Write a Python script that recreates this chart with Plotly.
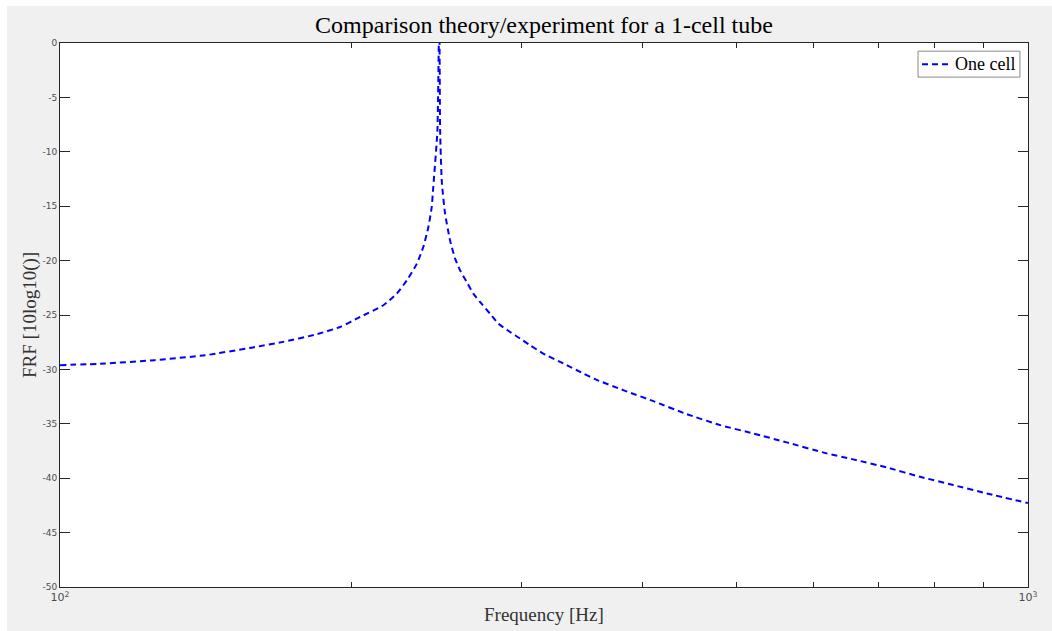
import plotly.graph_objects as go

# Frequency response of a single-cell tube (dB)
freq_hz = [100.0, 111.3, 125.3, 141.2, 157.8, 170.0, 184.2, 194.7, 204.2, 215.8,
           222.8, 228.2, 233.7, 237.3, 240.2, 242.1, 243.0, 245.4, 246.5, 247.0,
           248.0, 249.9, 252.9, 255.9, 259.0, 263.1, 267.3, 271.6, 278.1, 283.7,
           291.7, 298.7, 305.9, 315.7, 331.2, 347.3, 357.1, 383.5, 410.2, 444.1,
           480.8, 520.3, 563.3, 619.4, 659.9, 714.5, 773.5, 837.2, 906.5, 1000.0]
frf_db = [-29.61, -29.46, -29.15, -28.70, -28.00, -27.47, -26.77, -26.10, -25.18, -24.10,
          -23.03, -21.81, -20.28, -18.75, -16.91, -15.08, -13.24, -8.03, 3.0, -8.03,
          -12.78, -15.66, -18.14, -19.79, -20.89, -21.96, -23.03, -23.80, -24.87, -25.79,
          -26.56, -27.16, -27.78, -28.54, -29.46, -30.38, -30.90, -31.97, -32.92, -34.11,
          -35.12, -35.89, -36.71, -37.72, -38.27, -39.01, -39.87, -40.63, -41.40, -42.29]

y_ticks = [0, -5, -10, -15, -20, -25, -30, -35, -40, -45, -50]
x_major = [100, 1000]
x_major_text = ["10<sup>2</sup>", "10<sup>3</sup>"]
x_minor = [200, 300, 400, 500, 600, 700, 800, 900]

SERIF = "Liberation Serif"
AXIS_COL = "#262626"
LINE_COL = "#0000ff"
LINE_DASH = "6px,4px"

fig = go.Figure()
fig.add_trace(go.Scatter(
    x=freq_hz, y=frf_db, mode="lines", name="One cell",
    line=dict(color=LINE_COL, width=2, dash=LINE_DASH, shape="spline", smoothing=0.5),
    showlegend=False,
))

fig.update_layout(
    width=1052, height=631,
    margin=dict(l=60, r=24, t=43, b=44),
    paper_bgcolor="#f0f0f0", plot_bgcolor="#ffffff",
    title=dict(text="Comparison theory/experiment for a 1-cell tube",
               x=0.5, xref="paper", xanchor="center",
               y=0.961, yref="container", yanchor="middle",
               font=dict(family=SERIF, size=24, color="#000000")),
    xaxis=dict(
        type="log", range=[2, 3],
        tickvals=x_major, ticktext=x_major_text,
        ticks="inside", ticklen=10, tickcolor=AXIS_COL, tickwidth=1,
        minor=dict(tickvals=x_minor, ticks="inside", ticklen=5,
                   tickcolor=AXIS_COL, tickwidth=1, showgrid=False),
        showline=True, linecolor=AXIS_COL, linewidth=1, mirror="ticks",
        showgrid=False, zeroline=False,
        tickfont=dict(family="DejaVu Sans", size=11, color="#4d4d4d"),
    ),
    yaxis=dict(
        range=[-50, 0], tickvals=y_ticks, ticktext=[str(v) for v in y_ticks],
        ticks="inside", ticklen=10, tickcolor=AXIS_COL, tickwidth=1,
        showline=True, linecolor=AXIS_COL, linewidth=1, mirror="ticks",
        showgrid=False, zeroline=False,
        tickfont=dict(family="DejaVu Sans", size=9, color="#4d4d4d"),
    ),
    annotations=[
        dict(text="Frequency [Hz]", xref="paper", yref="paper", x=0.5, y=-0.0514,
             xanchor="center", yanchor="middle", showarrow=False,
             font=dict(family=SERIF, size=19, color="#333333")),
        dict(text="FRF [10log10()]", xref="paper", yref="paper", x=-0.031, y=0.5,
             xanchor="center", yanchor="middle", showarrow=False, textangle=-90,
             font=dict(family=SERIF, size=19, color="#333333")),
        # legend entry text
        dict(text="One cell", xref="paper", yref="paper", x=0.9225, y=0.9611,
             xanchor="left", yanchor="middle", showarrow=False,
             font=dict(family=SERIF, size=18, color="#000000")),
    ],
    shapes=[
        # thin white frame strips on the left and top edges of the figure
        dict(type="rect", xref="paper", yref="paper", x0=-0.1, x1=-0.0548,
             y0=-0.2, y1=1.2, fillcolor="#ffffff", line=dict(width=0), layer="above"),
        dict(type="rect", xref="paper", yref="paper", x0=-0.1, x1=1.1,
             y0=1.068, y1=1.2, fillcolor="#ffffff", line=dict(width=0), layer="above"),
        # legend box and its line sample
        dict(type="rect", xref="paper", yref="paper", x0=0.8864, x1=0.9917,
             y0=0.9373, y1=0.9850, fillcolor="#ffffff",
             line=dict(color="#8a8a8a", width=1), layer="above"),
        dict(type="line", xref="paper", yref="paper", x0=0.8905, x1=0.9205,
             y0=0.9611, y1=0.9611, line=dict(color=LINE_COL, width=2, dash=LINE_DASH),
             layer="above"),
    ],
)

fig.write_html("out.html")
